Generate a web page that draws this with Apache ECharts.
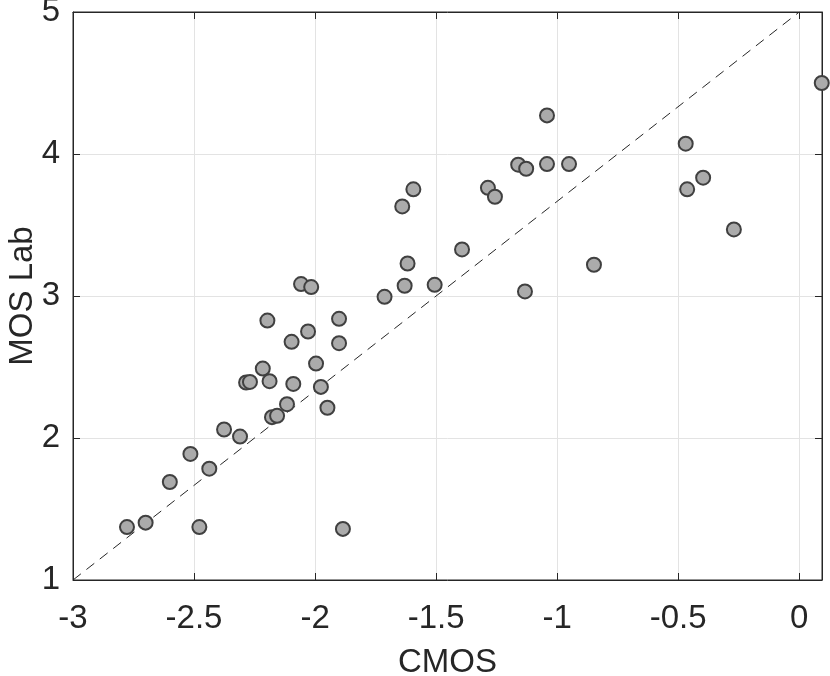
<!DOCTYPE html>
<html>
<head>
    <meta charset="utf-8">
    <title>CMOS vs MOS Lab</title>
    <script src="https://cdn.jsdelivr.net/npm/echarts@6/dist/echarts.min.js"></script>
    <style>
        body { margin: 0; background: #fff; }
    </style>
</head>
<body>
    <div id="main" style="width: 830px;height:676px;"></div>

    <script type="text/javascript">
        // values
        var cmos = [-2.777, -2.700, -2.478, -2.600, -2.515, -2.437, -2.376, -2.310, -1.885, -1.949,
                    -2.178, -2.157, -2.116, -2.058, -2.016, -2.197, -1.901, -2.029, -2.097, -1.901,
                    -1.996, -2.216, -2.285, -2.269, -2.188, -2.090, -1.976, -1.042, -1.161, -1.128,
                    -1.042, -0.951, -1.594, -1.640, -1.286, -1.257, -1.393, -1.618, -1.630, -1.506,
                    -1.713, -1.133, -0.848, 0.093, -0.469, -0.397, -0.463, -0.270];
        var mosLab = [1.373, 1.404, 1.373, 1.690, 1.888, 1.784, 2.060, 2.010, 1.360, 2.213,
                      2.147, 2.156, 2.238, 3.084, 3.063, 2.827, 2.839, 2.750, 2.677, 2.668,
                      2.524, 2.489, 2.391, 2.395, 2.400, 2.381, 2.360, 4.272, 3.925, 3.896,
                      3.929, 3.929, 3.751, 3.631, 3.762, 3.699, 3.328, 3.229, 3.072, 3.079,
                      2.994, 3.032, 3.220, 4.500, 4.073, 3.833, 3.751, 3.469];
        // reference line y = 4/3 * x + 5
        var refLine = [[-3, 1], [0, 5]];

        var xMin = -3, xMax = 0.094, xStep = 0.5;
        var yMin = 1, yMax = 5, yStep = 1;

        var ink = '#262626';
        var font = '"Liberation Sans", Arial, Helvetica, sans-serif';

        var points = [];
        for (var i = 0; i < cmos.length; i++) {
            points.push([cmos[i], mosLab[i]]);
        }

        function onStep(v, step) {
            var r = v / step;
            return Math.abs(r - Math.round(r)) < 1e-6;
        }

        var myChart = echarts.init(document.getElementById('main'));

        var option = {
            animation: false,
            backgroundColor: '#fff',
            textStyle: { fontFamily: font },
            grid: {
                left: 73, right: 8, top: 12, bottom: 96,
                outerBoundsMode: 'none', containLabel: false,
                show: true, borderColor: ink, borderWidth: 1, backgroundColor: 'transparent'
            },
            xAxis: [{
                type: 'value', min: xMin, max: xMax, interval: xStep,
                name: 'CMOS', nameLocation: 'middle', nameGap: 66, nameMoveOverlap: false,
                nameTextStyle: { fontSize: 33, color: ink, fontFamily: font },
                axisLine: { show: true, onZero: false, lineStyle: { color: ink } },
                axisTick: { show: true, inside: true, length: 7, lineStyle: { color: ink } },
                axisLabel: {
                    fontSize: 33, color: ink, margin: 22, fontFamily: font,
                    formatter: function (v) { return onStep(v, xStep) ? String(+v.toFixed(1)) : ''; }
                },
                splitLine: { show: true, lineStyle: { color: '#e3e3e3' } }
            }, {
                type: 'value', position: 'top', min: xMin, max: xMax, interval: xStep,
                axisLine: { show: true, onZero: false, lineStyle: { color: ink } },
                axisTick: { show: true, inside: true, length: 7, lineStyle: { color: ink } },
                axisLabel: { show: false },
                splitLine: { show: false }
            }],
            yAxis: [{
                type: 'value', min: yMin, max: yMax, interval: yStep,
                name: 'MOS Lab', nameLocation: 'middle', nameGap: 34, nameMoveOverlap: false,
                nameTextStyle: { fontSize: 33, color: ink, fontFamily: font },
                axisLine: { show: true, onZero: false, lineStyle: { color: ink } },
                axisTick: { show: true, inside: true, length: 7, lineStyle: { color: ink } },
                axisLabel: { fontSize: 33, color: ink, margin: 13, fontFamily: font },
                splitLine: { show: true, lineStyle: { color: '#e3e3e3' } }
            }, {
                type: 'value', position: 'right', min: yMin, max: yMax, interval: yStep,
                axisLine: { show: true, onZero: false, lineStyle: { color: ink } },
                axisTick: { show: true, inside: true, length: 7, lineStyle: { color: ink } },
                axisLabel: { show: false },
                splitLine: { show: false }
            }],
            series: [{
                type: 'line',
                data: refLine,
                showSymbol: false,
                symbol: 'none',
                silent: true,
                lineStyle: { color: ink, width: 1, type: [10, 7] },
                z: 2
            }, {
                type: 'scatter',
                data: points,
                symbol: 'circle',
                symbolSize: 14,
                clip: false,
                itemStyle: { color: '#ababab', borderColor: '#404040', borderWidth: 2, opacity: 1 },
                z: 3
            }]
        };

        myChart.setOption(option);
    </script>
</body>
</html>
